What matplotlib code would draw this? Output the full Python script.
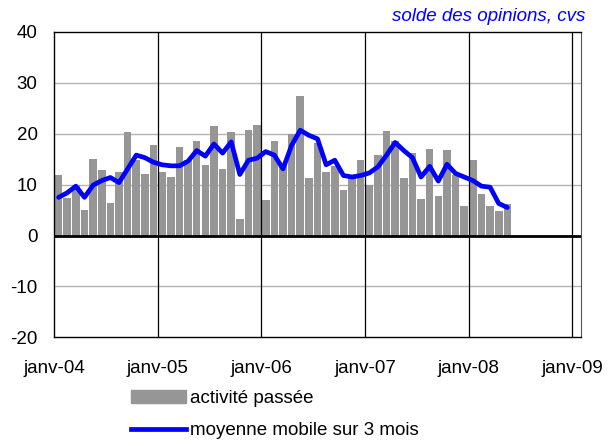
import matplotlib
matplotlib.use("Agg")
import matplotlib.pyplot as plt
from matplotlib.patches import Patch
from matplotlib.lines import Line2D
import numpy as np

plt.rcParams['font.family'] = ['Liberation Sans', 'DejaVu Sans']
plt.rcParams['axes.unicode_minus'] = False

# activité passée, mensuel, janv-04 -> mai-08
activite = [11.8, 7.3, 10.0, 5.0, 15.0, 12.8, 6.3, 12.4, 20.3, 14.8, 12.0, 17.7,
            12.4, 11.6, 17.3, 14.9, 18.5, 13.8, 21.6, 13.0, 20.3, 3.3, 20.7, 21.7,
            7.0, 18.5, 13.8, 20.0, 27.4, 11.4, 18.2, 12.5, 13.7, 9.0, 11.8, 14.8,
            10.0, 15.9, 20.5, 18.5, 11.4, 16.3, 7.1, 17.1, 7.7, 16.9, 11.8, 5.9,
            14.8, 8.2, 5.8, 4.8, 6.1]

moyenne = [7.5, 8.4, 9.7, 7.5, 9.9, 10.8, 11.4, 10.4, 13.1, 15.8, 15.3, 14.4,
           13.9, 13.7, 13.7, 14.6, 16.7, 15.6, 18.0, 16.2, 18.4, 12.0, 14.8, 15.2,
           16.5, 15.8, 13.1, 17.7, 20.7, 19.7, 19.0, 13.9, 14.8, 11.8, 11.5, 11.8,
           12.3, 13.5, 15.8, 18.3, 16.7, 15.3, 11.5, 13.6, 10.7, 14.0, 12.2, 11.5,
           10.8, 9.7, 9.5, 6.3, 5.5]

tick_labels = ["janv-04", "janv-05", "janv-06", "janv-07", "janv-08", "janv-09"]

mois = np.arange(len(activite)) + 0.5

fig = plt.figure(figsize=(6.14, 4.46), dpi=100)
ax = fig.add_axes([0.0884, 0.2437, 0.8574, 0.6846])

ax.bar(mois, activite, width=0.88, color='#969696', zorder=2)
ax.plot(mois, moyenne, color='#0000ff', linewidth=3.4, zorder=4,
        solid_capstyle='round', solid_joinstyle='round')

for y in [-10, 10, 20, 30]:
    ax.axhline(y, color='#b4b4b4', linewidth=1, zorder=1)
for x in [12, 24, 36, 48, 60]:
    ax.axvline(x, color='black', linewidth=0.9, zorder=3)
ax.axhline(0, color='black', linewidth=2, zorder=5)

ax.set_xlim(0, 61)
ax.set_ylim(-20, 40)
ax.set_yticks([-20, -10, 0, 10, 20, 30, 40])
ax.set_xticks([0, 12, 24, 36, 48, 60])
ax.set_xticklabels(tick_labels)
ax.tick_params(axis='both', length=0, labelsize=13.5)
ax.tick_params(axis='y', pad=12)
ax.tick_params(axis='x', pad=16)

for s in ['left', 'bottom', 'top']:
    ax.spines[s].set_color('black')
    ax.spines[s].set_linewidth(1)
ax.spines['right'].set_color('#555555')

fig.text(0.953, 0.952, "solde des opinions, cvs", color='#0000ff',
         fontstyle='italic', fontsize=13.5, ha='right', va='baseline')

handles = [Patch(color='#969696', label='activité passée'),
           Line2D([], [], color='#0000ff', linewidth=3.4, label='moyenne mobile sur 3 mois')]
fig.legend(handles=handles, loc='upper left', bbox_to_anchor=(0.214, 0.125),
           frameon=False, fontsize=13.5, handlelength=2.9, handletextpad=0.2,
           labelspacing=0.78, borderpad=0, borderaxespad=0)

fig.savefig("out.png", dpi=100)
